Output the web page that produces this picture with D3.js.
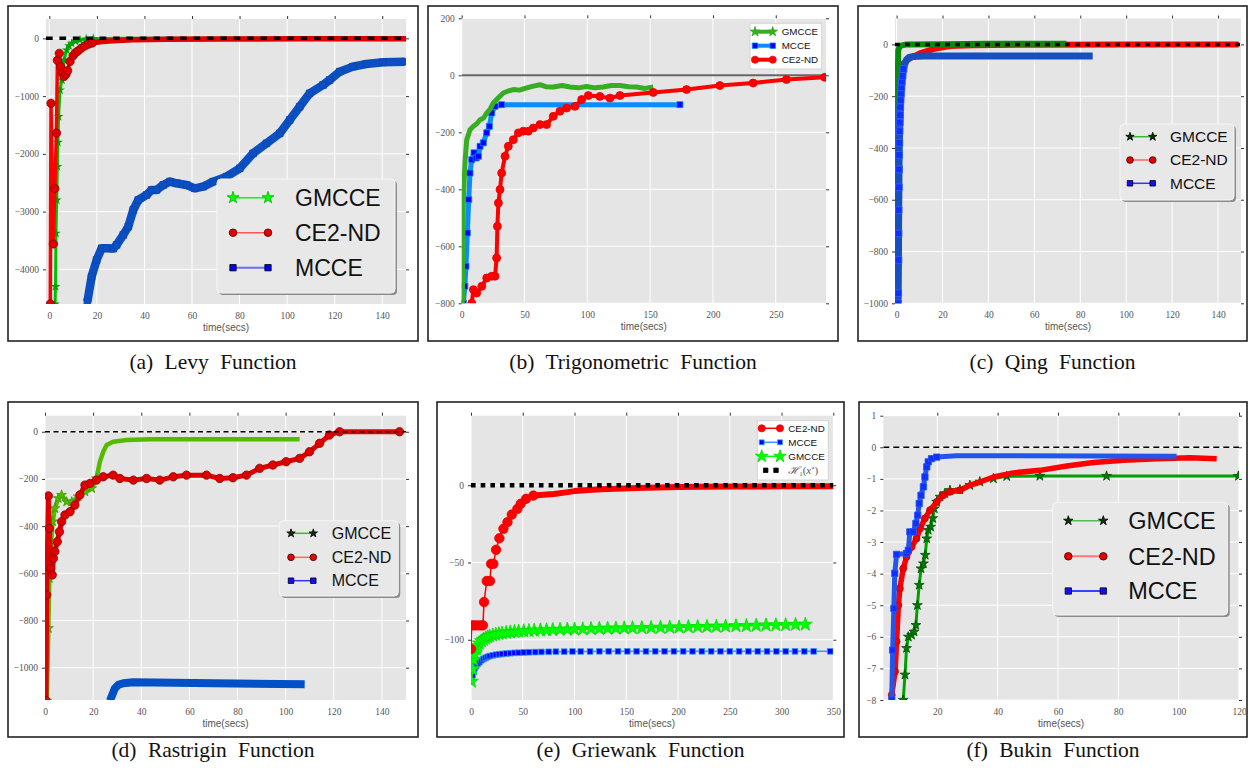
<!DOCTYPE html>
<meta charset="utf-8">
<style>
body{margin:0;background:#fff;}
svg{display:block}
</style>
<svg id="fig" width="1250" height="772"></svg>
<script src="https://d3js.org/d3.v7.min.js"></script>
<script>
// ---- data: [time(secs), value] ----

// (a) Levy
const levyMCCE = [[16,-4560],[17.8,-4125],[19.9,-3837],[22,-3635],[24.1,-3635],[26.9,-3640],[28.3,-3577],[31.1,-3404],[33.2,-3260],[35.3,-2972],[37.4,-2799],[40.9,-2712],[43,-2625],[45.1,-2625],[47.9,-2539],[50.7,-2481],[53.5,-2510],[57.7,-2539],[61.2,-2597],[64.7,-2568],[68.9,-2481],[74.5,-2395],[80.1,-2250],[85.7,-1991],[91.3,-1818],[96.9,-1645],[101.1,-1414],[105.3,-1183],[109.5,-952],[115.1,-808],[117.9,-721],[122.1,-577],[127.7,-490],[133.3,-444],[140.3,-415],[149.4,-404]];
const levyGMCCE = [[2.4,-4600],[2.6,-4300],[2.8,-3375],[3.1,-2800],[3.4,-2222],[3.6,-1800],[3.9,-1356],[4.5,-894],[5.3,-721],[6.2,-375],[7.3,-202],[8.3,-130],[9.4,-87],[11,-50],[12.9,-29],[15.5,-12],[18.5,-5],[30,0],[60,0],[100,0]];
const levyCE2ND = [[0.4,-4600],[0.7,-1125],[1.7,-3560],[2.3,-2600],[3,-1640],[3.4,-380],[4.2,-260],[4.8,-490],[5.5,-600],[6.2,-660],[7,-620],[7.7,-560],[8.7,-400],[10,-300],[11,-250],[12,-220],[13.5,-170],[15,-130],[16.5,-100],[18,-80],[22,-55],[27,-40],[35,-25],[50,-15],[75,-10],[105,-8],[150,-5]];

// (b) Trigonometric
const trigGMCCE = [[0.5,-800],[1.3,-436],[2.7,-300],[4,-226],[6.6,-191],[9.3,-179],[12,-170],[14.6,-156],[17.5,-150],[19.9,-132],[22.5,-120],[25.2,-97],[29,-80],[33.1,-62],[37,-55],[41.1,-50],[46,-52],[51.7,-44],[57,-38],[62.3,-33],[67,-40],[72.9,-41],[80,-36],[86.2,-41],[93,-44],[99.4,-39],[106,-44],[112.7,-41],[119,-36],[126,-36],[133,-40],[139.2,-41],[146,-46],[152.5,-41]];
const trigMCCE = [[1.3,-800],[2.5,-740],[3.4,-670],[4.5,-553],[5.6,-436],[6.6,-343],[8,-296],[9.8,-272],[11.5,-290],[13.3,-284],[14.6,-249],[17.2,-237],[19.9,-202],[22,-179],[23.9,-132],[26.5,-109],[31.8,-103],[173.7,-103]];
const trigCE2ND = [[8,-800],[9.3,-752],[11.9,-764],[16,-740],[19.9,-711],[23.9,-705],[26.5,-705],[27.8,-641],[28.4,-530],[29.2,-448],[30.5,-401],[31.8,-343],[34.5,-284],[37.1,-249],[41.1,-226],[45.1,-202],[49,-196],[53,-196],[57,-185],[62.3,-173],[67.6,-173],[72.9,-144],[78.2,-126],[83.5,-115],[90.2,-109],[95.5,-85],[100.8,-71],[110,-74],[118,-80],[126,-71],[152.5,-60],[179,-50],[205.5,-36],[232,-27],[258.5,-15],[289,-7]];

// (c) Qing
const qingGMCCE = [[0.3,-1000],[0.35,-600],[0.4,-215],[0.7,-22],[1.5,-6],[4.3,0],[20,1],[40,2],[74,2]];
const qingCE2ND = [[0.3,-1000],[0.3,-780],[0.7,-240],[1.4,-125],[2.9,-73],[5.8,-54],[10.1,-35],[15.9,-18],[23.2,-6],[33.3,-3],[60,-1],[100,0],[149,0]];
const qingMCCE = [[0.6,-1000],[0.7,-961],[0.8,-833],[0.85,-730],[0.9,-640],[1.0,-552],[1.05,-483],[1.1,-427],[1.2,-380],[1.3,-335],[1.4,-302],[1.5,-273],[1.6,-243],[1.75,-215],[1.9,-189],[2.1,-166],[2.3,-144],[2.6,-122],[3,-95],[3.6,-75],[4.3,-60],[5.5,-50],[7,-47],[11.6,-45],[85.4,-45]];

// (d) Rastrigin
const rastGMCCE = [[0.7,-1140],[1.4,-833],[1.8,-621],[2.4,-480],[3.2,-381],[4.1,-325],[5.5,-282],[6.9,-268],[9,-297],[11.1,-297],[13.8,-275],[16.6,-254],[19.4,-240],[21.4,-198],[22.8,-127],[24.2,-85],[25.6,-56],[28.3,-42],[33.9,-35],[43.6,-32],[105.8,-32]];
const rastCE2ND = [[0.4,-1140],[0.7,-692],[1.4,-272],[1.8,-410],[2.4,-579],[3,-607],[3.5,-537],[4.1,-508],[5.1,-466],[6,-424],[6.9,-381],[8.3,-353],[10.4,-339],[12.4,-311],[14.5,-268],[16.6,-226],[18.7,-219],[21.4,-205],[24.2,-191],[28.3,-184],[31.1,-198],[36.7,-205],[42.2,-198],[47.7,-205],[53.3,-191],[58.8,-184],[67.1,-184],[72.6,-198],[78.1,-195],[83.7,-184],[89.2,-155],[94.7,-141],[100.2,-127],[105.8,-113],[109.9,-85],[114.1,-49],[118.2,-14],[122.4,0],[147.3,0]];
const rastMCCE = [[27,-1140],[29,-1088],[30.4,-1073],[32.5,-1066],[36.7,-1062],[107.9,-1070]];

// (e) Griewank
const grieCE2ND = [[0,-106],[0.6,-90.7],[3,-90.7],[6,-90.7],[9,-90.7],[11.5,-90.7],[12.6,-75.6],[15.2,-62],[18.4,-62],[19.4,-50.9],[21.6,-50.9],[24.2,-41.8],[27.4,-34.3],[31.3,-28.2],[35.2,-23.9],[39.4,-19],[44.8,-15.3],[48,-12],[53.2,-8.8],[60.3,-6.7],[70,-6.2],[80,-5.7],[90,-4.8],[100,-3.8],[110,-3.2],[125,-2.6],[140,-2.2],[160,-1.8],[180,-1.4],[200,-1.2],[225,-1],[250,-0.9],[275,-0.8],[300,-0.7],[325,-0.6],[350,-0.6]];
const grieMCCE = [[0.6,-127],[1.5,-123],[2.5,-120],[3.5,-118.5],[5,-117],[6.5,-115.5],[8,-114.5],[10,-113.3],[12,-112.4],[14,-111.7],[16,-111.1],[18,-110.6],[21,-110.1],[24,-109.7],[27,-109.4],[30,-109.2],[34,-108.9],[38,-108.7],[42,-108.5],[46,-108.4],[51,-108.2],[56,-108.1],[62,-108],[68,-107.9],[75,-107.8],[82,-107.7],[90,-107.7],[98,-107.6],[106,-107.6],[115,-107.6],[124,-107.5],[133,-107.5],[142,-107.5],[151,-107.5],[160,-107.5],[169,-107.5],[178,-107.5],[187,-107.5],[196,-107.5],[205,-107.5],[214,-107.5],[223,-107.5],[232,-107.5],[241,-107.5],[250,-107.5],[259,-107.5],[268,-107.5],[277,-107.5],[286,-107.5],[295,-107.5],[304,-107.5],[313,-107.5],[322,-107.5],[331,-107.5],[347,-107.5]];
const grieGMCCE = [[0.5,-127],[1.5,-119],[2.5,-113],[3.5,-109.5],[5,-106],[6.5,-104],[8,-102.3],[10,-100.8],[12,-99.8],[14,-99],[16,-98.3],[18,-97.7],[21,-97.1],[24,-96.6],[27,-96.2],[30,-95.8],[34,-95.4],[38,-95.1],[42,-94.8],[46,-94.6],[51,-94.4],[56,-94.2],[61,-94],[67,-93.8],[73,-93.7],[79,-93.5],[86,-93.4],[93,-93.3],[100,-93.2],[108,-93.1],[116,-92.9],[124,-92.8],[132,-92.7],[140,-92.6],[148,-92.5],[156,-92.4],[165,-92.3],[174,-92.2],[183,-92.1],[192,-92],[201,-91.9],[210,-91.7],[219,-91.6],[228,-91.5],[237,-91.4],[246,-91.3],[256,-91.1],[266,-91],[275.5,-90.8],[285,-90.6],[294.5,-90.5],[304,-90.4],[313.5,-90.2],[323,-90.1]];

// (f) Bukin
const bukGMCCE = [[8.7,-8],[9.3,-7.2],[9.8,-6.36],[10.4,-6],[11.5,-5.94],[12.3,-5.84],[12.9,-5.63],[13.4,-5],[14,-4.36],[14.6,-3.84],[15.4,-3.68],[16,-3.41],[16.5,-2.89],[17,-2.62],[17.8,-2.52],[18.5,-2.25],[19,-1.94],[19.8,-1.73],[20.9,-1.57],[22.5,-1.46],[24.2,-1.36],[27.5,-1.34],[30.8,-1.2],[34.1,-1.09],[38.6,-0.99],[43,-0.92],[54,-0.91],[76.1,-0.91],[119.8,-0.91]];
const bukCE2ND = [[4.9,-7.84],[6,-7.1],[6.5,-6.15],[7.1,-5],[7.6,-4.47],[8.7,-3.84],[9.8,-3.47],[11.5,-3.15],[13.1,-2.89],[14.3,-2.57],[15.9,-2.25],[17.6,-1.99],[19.8,-1.73],[22,-1.52],[24.2,-1.41],[27.5,-1.36],[30.8,-1.2],[34.1,-1.1],[38.6,-0.94],[45.2,-0.81],[54,-0.73],[62.9,-0.59],[71.7,-0.48],[81.7,-0.41],[92.7,-0.36],[103.8,-0.33],[112.6,-0.36]];
const bukMCCE = [[4.9,-8],[5.2,-6.42],[5.6,-5.1],[5.9,-3.99],[6.5,-3.39],[9.8,-3.36],[10.4,-3.26],[10.9,-2.68],[12,-2.68],[12.9,-2.41],[13.5,-2.15],[14,-1.78],[14.6,-1.52],[15.4,-1.25],[15.9,-0.94],[16.5,-0.62],[17,-0.46],[18.1,-0.36],[19.8,-0.31],[26.4,-0.27],[43,-0.27],[99.3,-0.28]];

// ticks
const ticks150 = [0,20,40,60,80,100,120,140];
const levyYTicks = [0,-1000,-2000,-3000,-4000];
const trigXTicks = [0,50,100,150,200,250];
const trigYTicks = [200,0,-200,-400,-600,-800];
const y1000Ticks = [0,-200,-400,-600,-800,-1000];
const grieXTicks = [0,50,100,150,200,250,300,350];
const grieYTicks = [0,-50,-100];
const bukXTicks = [20,40,60,80,100,120];
const bukYTicks = [1,0,-1,-2,-3,-4,-5,-6,-7,-8];

// ---- styles ----
const STAR = d3.symbolStar, CIRC = d3.symbolCircle, SQ = d3.symbolSquare;

const panels = [
  {caption:'(a) Levy Function', frame:[8,6,418,341], plot:[46,19,406,304], xDom:[-1.4,150], yDom:[-4600,335],
   xTicks:ticks150, yTicks:levyYTicks,
   ref:{color:'#000', width:3.5, dash:'6.7,6.7'},
   series:[
     {pts:levyMCCE, color:'#0b4fc2', width:8.5, marker:SQ, msize:44, mfill:'#0b4fc2', mstroke:'#0a48b0'},
     {pts:levyGMCCE, color:'#00c000', width:3, marker:STAR, msize:30, mfill:'#00a000', mstroke:'none', mMax:20},
     {pts:levyCE2ND, color:'#ff0000', width:3.5, marker:CIRC, msize:55, mfill:'#e00000', mstroke:'#8a0000', mMax:20,
      tailFrom:18, tailWidth:5.5, tailColor:'#e00000'}
   ],
   legend:{style:'shadow', box:[217,179,178,114], rows:[197.7,232.7,267.7], hx:[233,268], tx:295, font:23,
     items:[
       {label:'GMCCE', color:'#00ff00', width:1.5, marker:STAR, msize:45, mfill:'#00ff00', mstroke:'#00b000'},
       {label:'CE2-ND', color:'#ff5555', width:1.5, marker:CIRC, msize:45, mfill:'#ee0000', mstroke:'#400000'},
       {label:'MCCE', color:'#6b6bff', width:2, marker:SQ, msize:40, mfill:'#0000ff', mstroke:'#000'}
     ]}},
  {caption:'(b) Trigonometric Function', frame:[428,6,838,341], plot:[461.7,18.3,826,303.3], xDom:[0,290], yDom:[-800,200],
   xTicks:trigXTicks, yTicks:trigYTicks,
   ref:{color:'#666', width:2, dash:null, under:true},
   series:[
     {pts:trigMCCE, color:'#0a8cff', width:5, marker:SQ, msize:36, mfill:'#0000ff', mstroke:'#0a8cff'},
     {pts:trigGMCCE, color:'#36ad22', width:5},
     {pts:trigCE2ND, color:'#ff0000', width:4, marker:CIRC, msize:50, mfill:'#ff0000', mstroke:'#ee0000'}
   ],
   legend:{style:'plain', box:[750,23.3,71.7,45.7], rows:[31.7,45.7,59.7], hx:[755,772.7], tx:781.7, font:9.8,
     items:[
       {label:'GMCCE', color:'#36ad22', width:4, marker:STAR, msize:30, mfill:'#36ad22', mstroke:'#36ad22'},
       {label:'MCCE', color:'#0a8cff', width:4, marker:SQ, msize:30, mfill:'#0000ff', mstroke:'#0a8cff'},
       {label:'CE2-ND', color:'#ff0000', width:4, marker:CIRC, msize:40, mfill:'#ff0000', mstroke:'#ff0000'}
     ]}},
  {caption:'(c) Qing Function', frame:[858,6,1247,341], plot:[895,18.5,1241,303.3], xDom:[-0.7,150], yDom:[-1000,100],
   xTicks:ticks150, yTicks:y1000Ticks,
   ref:{color:'#000', width:3.5, dash:'5,5'},
   series:[
     {pts:qingCE2ND, color:'#ff0000', width:6, marker:CIRC, msize:40, mfill:'#ff0000', mstroke:'#d00000', mMax:1},
     {pts:qingGMCCE, color:'#0a8a0a', width:6},
     {pts:qingMCCE, color:'#1550c0', width:7, marker:SQ, msize:45, mfill:'#1030ff', mstroke:'#3060ff', mMax:3}
   ],
   legend:{style:'shadow', box:[1120,124,114,76], rows:[136.7,160,183.3], hx:[1130,1152.7], tx:1170, font:15.5,
     items:[
       {label:'GMCCE', color:'#33bb33', width:1.5, marker:STAR, msize:22, mfill:'#0a300a', mstroke:'#000'},
       {label:'CE2-ND', color:'#ff6666', width:1.5, marker:CIRC, msize:35, mfill:'#ee0000', mstroke:'#300000'},
       {label:'MCCE', color:'#3333ff', width:1.5, marker:SQ, msize:30, mfill:'#1010ff', mstroke:'#000'}
     ]}},
  {caption:'(d) Rastrigin Function', frame:[8,402,418,737], plot:[45,415.7,406,700], xDom:[0,150], yDom:[-1137,68],
   xTicks:ticks150, yTicks:y1000Ticks,
   ref:{color:'#000', width:1.6, dash:'5,3.5'},
   series:[
     {pts:rastMCCE, color:'#0050c8', width:8},
     {pts:rastGMCCE, color:'#55bb00', width:4.5, marker:STAR, msize:30, mfill:'#55bb00', mstroke:'#3d9a00', mMax:22},
     {pts:rastCE2ND, color:'#e00000', width:5, marker:CIRC, msize:55, mfill:'#e00000', mstroke:'#8a0000'}
   ],
   legend:{style:'shadow', box:[279.3,520.7,119,75.3], rows:[533.3,557.3,580.7], hx:[291,313.3], tx:331.7, font:16,
     items:[
       {label:'GMCCE', color:'#33bb33', width:1.5, marker:STAR, msize:22, mfill:'#0a300a', mstroke:'#000'},
       {label:'CE2-ND', color:'#ff6666', width:1.5, marker:CIRC, msize:35, mfill:'#ee0000', mstroke:'#300000'},
       {label:'MCCE', color:'#3333ff', width:1.5, marker:SQ, msize:30, mfill:'#1010ff', mstroke:'#000'}
     ]}},
  {caption:'(e) Griewank Function', frame:[437,402,844,737], plot:[471,415.7,833.3,700], xDom:[0,350], yDom:[-139,45],
   xTicks:grieXTicks, yTicks:grieYTicks,
   ref:{color:'#000', width:4.5, dash:'4.6,5.1'},
   series:[
     {pts:grieMCCE, color:'#3399ff', width:1.5, marker:SQ, msize:32, mfill:'#0000ff', mstroke:'#3399ff'},
     {pts:grieGMCCE, color:'#00ff00', width:1.5, marker:STAR, msize:60, mfill:'#00ff00', mstroke:'#00dd00'},
     {pts:grieCE2ND, color:'#ff0000', width:1.5, marker:CIRC, msize:70, mfill:'#ff0000', mstroke:'#ee0000', mMax:62,
      tailFrom:60, tailWidth:6, tailColor:'#ff0000'}
   ],
   legend:{style:'plain', box:[757.3,420.7,71,59.3], rows:[428.3,442.3,456.3,470.3], hx:[761.7,780], tx:788.3, font:9.8,
     items:[
       {label:'CE2-ND', color:'#ff0000', width:1.5, marker:CIRC, msize:40, mfill:'#ff0000', mstroke:'#ee0000'},
       {label:'MCCE', color:'#3399ff', width:1.5, marker:SQ, msize:24, mfill:'#0000ff', mstroke:'#3399ff'},
       {label:'GMCCE', color:'#00ff00', width:1.5, marker:STAR, msize:50, mfill:'#00ff00', mstroke:'#00dd00'},
       {label:'H', math:true, color:'none', width:0, marker:SQ, msize:20, mfill:'#000', mstroke:'#000'}
     ]}},
  {caption:'(f) Bukin Function', frame:[859,402,1247,737], plot:[883.3,415.7,1239,700], xDom:[2.1,120], yDom:[-8,1],
   xTicks:bukXTicks, yTicks:bukYTicks,
   ref:{color:'#000', width:1.6, dash:'6,4'},
   series:[
     {pts:bukGMCCE, color:'#00a000', width:3, marker:STAR, msize:30, mfill:'#007a00', mstroke:'#005000'},
     {pts:bukCE2ND, color:'#ff0000', width:5.5, marker:CIRC, msize:38, mfill:'#ee0000', mstroke:'#c00000', mMax:30},
     {pts:bukMCCE, color:'#2255ee', width:5, marker:SQ, msize:40, mfill:'#1030ff', mstroke:'#2255ee', mMax:20}
   ],
   legend:{style:'shadow', box:[1052.7,502.3,175,112.7], rows:[520.7,556.3,591], hx:[1068.3,1103.3], tx:1128.3, font:23.5,
     items:[
       {label:'GMCCE', color:'#55bb55', width:1.5, marker:STAR, msize:28, mfill:'#0a300a', mstroke:'#000'},
       {label:'CE2-ND', color:'#ff7777', width:2, marker:CIRC, msize:45, mfill:'#ee0000', mstroke:'#300000'},
       {label:'MCCE', color:'#3344ff', width:2, marker:SQ, msize:40, mfill:'#1010ff', mstroke:'#000'}
     ]}}
];

const svg = d3.select('#fig');
const fmt = d3.format('d');

function drawMarkers(g, pts, s, x, y) {
  const sym = d3.symbol().type(s.marker).size(s.msize);
  g.selectAll(null).data(pts).join('path')
    .attr('d', sym)
    .attr('transform', d => `translate(${x(d[0])},${y(d[1])})`)
    .attr('fill', s.mfill).attr('stroke', s.mstroke).attr('stroke-width', 0.8);
}

function drawRef(g, p, x, y) {
  g.append('line')
    .attr('x1', x(p.xDom[0])).attr('x2', x(p.xDom[1]))
    .attr('y1', y(0)).attr('y2', y(0))
    .attr('stroke', p.ref.color).attr('stroke-width', p.ref.width)
    .attr('stroke-dasharray', p.ref.dash);
}

function drawLegend(g, L) {
  const [bx, by, bw, bh] = L.box;
  if (L.style === 'shadow') {
    g.append('rect').attr('x', bx + 2).attr('y', by + 2).attr('width', bw).attr('height', bh)
      .attr('rx', 4).attr('fill', '#8c8c8c');
    g.append('rect').attr('x', bx).attr('y', by).attr('width', bw).attr('height', bh)
      .attr('rx', 4).attr('fill', '#e8e8e8').attr('stroke', '#f6f6f6');
  } else {
    g.append('rect').attr('x', bx).attr('y', by).attr('width', bw).attr('height', bh)
      .attr('fill', '#fff').attr('stroke', '#d4d4d4');
  }
  L.items.forEach((it, i) => {
    const yy = L.rows[i];
    if (it.width) {
      g.append('line').attr('x1', L.hx[0]).attr('x2', L.hx[1]).attr('y1', yy).attr('y2', yy)
        .attr('stroke', it.color).attr('stroke-width', it.width);
    }
    const ends = it.math ? [[L.hx[0] + 4, yy], [L.hx[1] - 4, yy]] : [[L.hx[0], yy], [L.hx[1], yy]];
    drawMarkers(g, ends, it, d => d, d => d);
    const t = g.append('text').attr('x', L.tx).attr('y', yy).attr('dy', '0.35em')
      .attr('font-size', L.font).attr('fill', '#111');
    if (it.math) {
      t.attr('font-family', 'Liberation Serif').attr('fill', '#555').attr('font-size', L.font + 1);
      t.append('tspan').attr('font-style', 'italic').text('ℋ');
      t.append('tspan').attr('font-size', L.font * 0.7).attr('dy', 2).text('1');
      t.append('tspan').attr('dy', -2).text('(');
      t.append('tspan').attr('font-style', 'italic').text('x');
      t.append('tspan').attr('font-size', L.font * 0.7).attr('dy', -3).text('*');
      t.append('tspan').attr('dy', 3).text(')');
    } else {
      t.attr('font-family', 'Liberation Sans, Arial, sans-serif').text(it.label);
    }
  });
}

panels.forEach((p, pi) => {
  const [fx0, fy0, fx1, fy1] = p.frame;
  const [px0, py0, px1, py1] = p.plot;
  const x = d3.scaleLinear().domain(p.xDom).range([px0, px1]);
  const y = d3.scaleLinear().domain(p.yDom).range([py1, py0]);
  const g = svg.append('g');

  g.append('rect').attr('x', fx0).attr('y', fy0).attr('width', fx1 - fx0).attr('height', fy1 - fy0)
    .attr('fill', '#fff').attr('stroke', '#222').attr('stroke-width', 1.6);
  g.append('rect').attr('x', px0).attr('y', py0).attr('width', px1 - px0).attr('height', py1 - py0)
    .attr('fill', '#e5e5e5');

  // white grid
  g.append('g').selectAll('line').data(p.xTicks).join('line')
    .attr('x1', d => x(d)).attr('x2', d => x(d)).attr('y1', py0).attr('y2', py1)
    .attr('stroke', '#fff').attr('stroke-width', 1);
  g.append('g').selectAll('line').data(p.yTicks).join('line')
    .attr('x1', px0).attr('x2', px1).attr('y1', d => y(d)).attr('y2', d => y(d))
    .attr('stroke', '#fff').attr('stroke-width', 1);

  const clipId = 'clip' + pi;
  g.append('clipPath').attr('id', clipId).append('rect')
    .attr('x', px0).attr('y', py0).attr('width', px1 - px0).attr('height', py1 - py0);
  const pg = g.append('g').attr('clip-path', `url(#${clipId})`);

  if (p.ref.under) drawRef(pg, p, x, y);
  const line = d3.line().x(d => x(d[0])).y(d => y(d[1]));
  p.series.forEach(s => {
    pg.append('path').datum(s.pts).attr('d', line)
      .attr('fill', 'none').attr('stroke', s.color).attr('stroke-width', s.width)
      .attr('stroke-linejoin', 'round');
    // dense-marker band where the markers merge
    if (s.tailFrom != null) {
      pg.append('path').datum(s.pts.filter(d => d[0] >= s.tailFrom)).attr('d', line)
        .attr('fill', 'none').attr('stroke', s.tailColor).attr('stroke-width', s.tailWidth)
        .attr('stroke-linejoin', 'round').attr('stroke-linecap', 'round');
    }
    if (s.marker) {
      const pts = s.pts.filter(d => s.mMax == null || d[0] <= s.mMax);
      drawMarkers(pg, pts, s, x, y);
    }
  });
  if (!p.ref.under) drawRef(pg, p, x, y);

  // axes: ticks left/top/right, labels left/bottom
  const tickStyle = a => {
    a.select('.domain').remove();
    a.selectAll('line').attr('stroke', '#333');
    a.selectAll('text').attr('font-family', 'Liberation Serif, serif').attr('font-size', 9.5).attr('fill', '#555');
  };
  g.append('g').attr('transform', `translate(${px0},0)`)
    .call(d3.axisLeft(y).tickValues(p.yTicks).tickFormat(fmt).tickSize(3).tickPadding(4)).call(tickStyle);
  g.append('g').attr('transform', `translate(${px1},0)`)
    .call(d3.axisRight(y).tickValues(p.yTicks).tickFormat('').tickSize(3)).call(tickStyle);
  g.append('g').attr('transform', `translate(0,${py0})`)
    .call(d3.axisTop(x).tickValues(p.xTicks).tickFormat('').tickSize(3)).call(tickStyle);
  g.append('g').attr('transform', `translate(0,${py1})`)
    .call(d3.axisBottom(x).tickValues(p.xTicks).tickFormat(fmt).tickSize(0).tickPadding(8)).call(tickStyle);

  g.append('text').attr('x', (px0 + px1) / 2).attr('y', py1 + 27).attr('text-anchor', 'middle')
    .attr('font-family', 'Liberation Sans, Arial, sans-serif').attr('font-size', 10).attr('fill', '#555')
    .text('time(secs)');

  drawLegend(g, p.legend);

  g.append('text').attr('x', (fx0 + fx1) / 2).attr('y', fy0 < 100 ? 369 : 757).attr('text-anchor', 'middle')
    .attr('font-family', 'Liberation Serif, Times New Roman, serif').attr('font-size', 21.5)
    .attr('word-spacing', 6).attr('fill', '#111')
    .text(p.caption);
});
</script>
